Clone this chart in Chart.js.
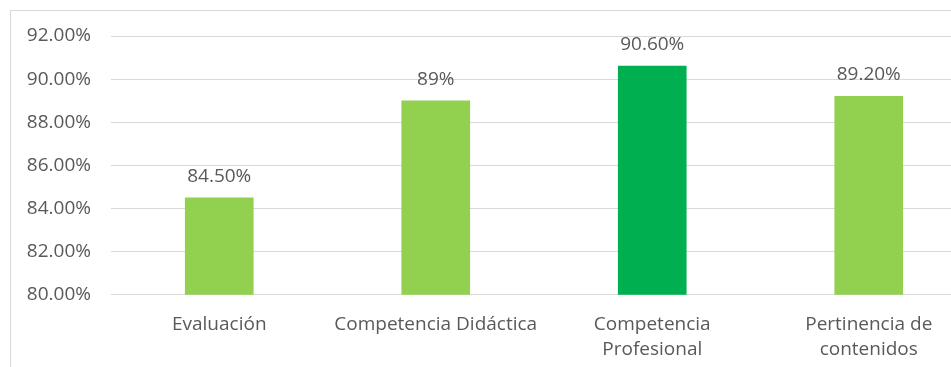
<!DOCTYPE html>
<html>
<head>
<meta charset="utf-8">
<script src="https://cdn.jsdelivr.net/npm/chart.js@4"></script>
<style>
  html, body { margin: 0; padding: 0; background: #fff; overflow: hidden; width: 951px; height: 367px; }
  #frame { position: absolute; left: 10px; top: 10px; width: 1100px; height: 500px; border: 1px solid #d9d9d9; }
  #chart { position: absolute; left: 0; top: 0; }
</style>
</head>
<body>
<div id="frame"></div>
<canvas id="chart" width="977" height="385"></canvas>
<script>
const categories = [
  "Evaluación",
  "Competencia Didáctica",
  ["Competencia", "Profesional"],
  ["Pertinencia de", "contenidos"]
];
const values = [84.5, 89, 90.6, 89.2];
const valueLabels = ["84.50%", "89%", "90.60%", "89.20%"];
const barColors = ["#92D050", "#92D050", "#00B050", "#92D050"];
const yTicks = { min: 80, max: 92, step: 2 };

const fontFamily = '"Open Sans", "Liberation Sans", Arial, sans-serif';

// draws the value text above each bar
const valueLabelPlugin = {
  id: 'valueLabels',
  afterDatasetsDraw(chart) {
    const ctx = chart.ctx;
    const meta = chart.getDatasetMeta(0);
    ctx.save();
    ctx.font = '19px ' + fontFamily;
    ctx.fillStyle = '#595959';
    ctx.textAlign = 'center';
    ctx.textBaseline = 'alphabetic';
    meta.data.forEach((bar, i) => {
      ctx.fillText(valueLabels[i], bar.x, bar.y - 16);
    });
    ctx.restore();
  }
};

new Chart(document.getElementById('chart').getContext('2d'), {
  type: 'bar',
  data: {
    labels: categories,
    datasets: [{
      data: values,
      backgroundColor: barColors,
      borderWidth: 0,
      barThickness: 68
    }]
  },
  options: {
    responsive: false,
    animation: false,
    devicePixelRatio: 1,
    layout: { padding: { top: 36, right: 0, bottom: 6, left: 0 } },
    plugins: {
      legend: { display: false },
      tooltip: { enabled: false }
    },
    scales: {
      x: {
        grid: { display: false, drawTicks: false },
        border: { display: false },
        ticks: {
          color: '#595959',
          font: { family: fontFamily, size: 19, lineHeight: 1.32 },
          padding: 17,
          maxRotation: 0,
          autoSkip: false
        }
      },
      y: {
        min: yTicks.min,
        max: yTicks.max,
        afterFit: (scale) => { scale.width = 111; },
        grid: { color: '#d9d9d9', lineWidth: 1, drawTicks: false },
        border: { display: false },
        ticks: {
          stepSize: yTicks.step,
          color: '#595959',
          font: { family: fontFamily, size: 19 },
          padding: 20,
          callback: (v) => v.toFixed(2) + '%'
        }
      }
    }
  },
  plugins: [valueLabelPlugin]
});
</script>
</body>
</html>
